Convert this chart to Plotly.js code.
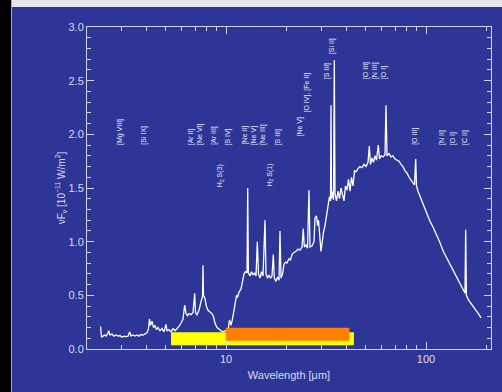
<!DOCTYPE html>
<html>
<head>
<meta charset="utf-8">
<script src="https://cdn.plot.ly/plotly-3.0.1.min.js"></script>
<style>
  html, body { margin: 0; padding: 0; background: #000; width: 502px; height: 392px; overflow: hidden; }
  #topbar { position: absolute; left: 12px; top: 0; width: 490px; height: 7px; background: #e6e6e8; }
  #edge { position: absolute; left: 11px; top: 0; width: 1px; height: 392px; background: #a8a8b8; }
  #chart { position: absolute; left: 12px; top: 7px; width: 490px; height: 385px; }
</style>
</head>
<body>
<div id="topbar"></div>
<div id="edge"></div>
<div id="chart"></div>
<script>
// Spectrum: wavelength (micron) and nuF_nu (1e-11 W/m^2)
const wavelength = [
  2.358, 2.385, 2.427, 2.469, 2.512, 2.556, 2.592, 2.630, 2.692, 2.754,
  2.818, 2.884, 2.951, 3.020, 3.090, 3.162, 3.236, 3.300, 3.350, 3.428,
  3.508, 3.589, 3.673, 3.758, 3.846, 3.936, 4.027, 4.098, 4.145, 4.193,
  4.266, 4.341, 4.416, 4.493, 4.571, 4.677, 4.786, 4.898, 5.012, 5.070,
  5.188, 5.309, 5.433, 5.559, 5.689, 5.821, 5.957, 6.095, 6.216, 6.310,
  6.420, 6.531, 6.683, 6.839, 6.974, 7.038, 7.161, 7.328, 7.499, 7.630,
  7.674, 7.718, 7.852, 7.971, 8.128, 8.318, 8.511, 8.660, 8.810, 9.016,
  9.226, 9.441, 9.661, 9.886, 10.12, 10.29, 10.41, 10.59, 10.78, 10.96,
  11.16, 11.29, 11.42, 11.61, 11.89, 12.09, 12.30, 12.52, 12.74, 12.84,
  12.94, 13.18, 13.41, 13.65, 13.88, 14.13, 14.34, 14.54, 14.79, 15.05,
  15.31, 15.67, 15.85, 16.13, 16.41, 16.70, 16.98, 17.24, 17.44, 17.78,
  18.09, 18.41, 18.62, 18.84, 19.17, 19.50, 19.84, 20.18, 20.65, 21.01,
  21.38, 21.88, 22.39, 22.91, 23.44, 23.99, 24.35, 24.63, 25.12, 25.56,
  26.00, 26.30, 26.92, 27.54, 27.86, 28.35, 28.68, 29.01, 29.51, 29.85,
  30.20, 30.66, 31.26, 31.88, 32.36, 32.92, 33.31, 33.50, 33.69, 34.08,
  34.48, 34.80, 35.08, 35.69, 36.31, 36.94, 37.58, 38.24, 38.90, 39.58,
  40.27, 40.97, 41.69, 42.41, 43.15, 43.90, 44.67, 45.71, 46.77, 47.86,
  48.98, 50.12, 51.29, 52.06, 52.78, 53.70, 54.64, 55.59, 56.56, 57.75,
  58.55, 59.57, 60.95, 62.37, 63.10, 63.83, 65.31, 66.83, 68.39, 69.98,
  71.61, 73.28, 74.99, 76.74, 78.52, 80.35, 82.22, 84.14, 86.10, 87.60,
  88.82, 89.64, 91.20, 93.33, 96.61, 100.8, 104.7, 108.8, 113.5, 117.5,
  122.0, 126.6, 131.8, 136.9, 142.4, 147.9, 153.7, 156.7, 157.9, 159.2,
  162.7, 169.3, 173.8, 179.3, 184.1, 188.4
];
const nuFnu = [
  0.21, 0.11, 0.12, 0.13, 0.12, 0.14, 0.17, 0.13, 0.14, 0.12,
  0.13, 0.12, 0.125, 0.11, 0.12, 0.115, 0.12, 0.16, 0.12, 0.13,
  0.12, 0.13, 0.12, 0.135, 0.13, 0.14, 0.15, 0.19, 0.28, 0.22,
  0.26, 0.20, 0.22, 0.18, 0.20, 0.17, 0.19, 0.16, 0.23, 0.17,
  0.18, 0.16, 0.19, 0.17, 0.19, 0.21, 0.24, 0.28, 0.41, 0.33,
  0.31, 0.33, 0.32, 0.34, 0.52, 0.34, 0.32, 0.36, 0.44, 0.49,
  0.78, 0.50, 0.47, 0.40, 0.36, 0.34, 0.33, 0.30, 0.24, 0.20,
  0.18, 0.17, 0.16, 0.17, 0.16, 0.20, 0.27, 0.22, 0.28, 0.35,
  0.46, 0.50, 0.48, 0.53, 0.56, 0.62, 0.70, 0.72, 0.71, 1.50,
  0.71, 0.68, 0.72, 0.69, 0.71, 0.68, 1.00, 0.70, 0.66, 0.72,
  0.68, 1.20, 0.70, 0.66, 0.69, 0.66, 0.68, 0.88, 0.66, 0.63,
  0.67, 0.64, 1.10, 0.66, 0.70, 0.79, 0.81, 0.80, 0.84, 0.83,
  0.88, 0.90, 0.91, 0.93, 0.92, 0.95, 1.12, 0.95, 0.97, 0.94,
  1.48, 0.95, 0.96, 1.00, 1.22, 1.24, 1.15, 1.20, 1.00, 0.91,
  0.98, 1.08, 1.15, 1.25, 1.32, 1.42, 1.38, 2.27, 1.40, 1.47,
  1.39, 2.69, 1.45, 1.38, 1.47, 1.40, 1.50, 1.42, 1.38, 1.52,
  1.48, 1.58, 1.47, 1.60, 1.52, 1.66, 1.65, 1.68, 1.70, 1.69,
  1.72, 1.70, 1.74, 1.89, 1.72, 1.78, 1.74, 1.80, 1.76, 1.90,
  1.77, 1.80, 1.79, 1.81, 2.27, 1.80, 1.82, 1.79, 1.80, 1.77,
  1.76, 1.75, 1.72, 1.70, 1.66, 1.64, 1.60, 1.57, 1.55, 1.53,
  1.77, 1.52, 1.47, 1.42, 1.35, 1.26, 1.19, 1.13, 1.06, 0.99,
  0.91, 0.85, 0.78, 0.73, 0.67, 0.61, 0.55, 0.52, 1.11, 0.50,
  0.46, 0.41, 0.38, 0.35, 0.32, 0.29
];

// Emission-line labels
const lineLabels = [
  "[Mg VIII]", "[Si IX]", "[Ar II]", "[Ne VI]", "[Ar III]", "H<sub>2</sub> S(3)", "[S IV]",
  "[Ne II]", "[Ne V]", "[Ne III]", "H<sub>2</sub> S(1)", "[S III]", "[Ne V]", "[O IV], [Fe II]",
  "[S III]", "[Si II]", "[O III]", "[N III]", "[O I]", "[O III]", "[N II]", "[O I]", "[C II]"
];
const labelWavelength = [
  2.95, 3.85, 6.66, 7.36, 8.64, 9.41, 10.23,
  12.45, 13.85, 15.19, 16.60, 18.26, 23.44, 25.32,
  31.88, 34.01, 50.12, 55.59, 61.66, 87.4, 119.3, 136.0, 155.5
];
const labelBase = [
  1.90, 1.90, 1.90, 1.90, 1.90, 1.51, 1.90,
  1.90, 1.90, 1.90, 1.51, 1.90, 1.98, 2.20,
  2.51, 2.75, 2.51, 2.51, 2.51, 1.90, 1.90, 1.90, 1.90
];

// Instrument coverage bands
const bandStart = [5.31, 9.97];
const bandEnd = [43.6, 41.4];
const bandLow = [0.034, 0.078];
const bandHigh = [0.155, 0.199];
const bandColors = ["#ffff00", "#ff7f00"];

// x-axis ticks
const majorTicks = [10, 100];
const majorTickText = ["10", "100"];
const minorTicks = [2, 3, 4, 5, 6, 7, 8, 9, 20, 30, 40, 50, 60, 70, 80, 90, 200];

const axisColor = "#d4d4e4";
const textColor = "#dcdcec";
const font = "Liberation Sans, Arial, sans-serif";

const traces = [{
  x: wavelength, y: nuFnu, type: "scatter", mode: "lines",
  line: { color: "#ffffff", width: 1.3 }, hoverinfo: "skip"
}];
for (let i = 0; i < bandStart.length; i++) {
  traces.push({
    x: [bandStart[i], bandEnd[i], bandEnd[i], bandStart[i], bandStart[i]],
    y: [bandLow[i], bandLow[i], bandHigh[i], bandHigh[i], bandLow[i]],
    type: "scatter", mode: "none", fill: "toself", fillcolor: bandColors[i],
    hoverinfo: "skip"
  });
}

const annotations = lineLabels.map((t, i) => ({
  x: Math.log10(labelWavelength[i]), y: labelBase[i], xref: "x", yref: "y",
  text: t, showarrow: false, textangle: -90, xanchor: "center", yanchor: "bottom",
  borderpad: 0, borderwidth: 0,
  font: { family: font, size: 7, color: "#e6e6f4" }
}));

const layout = {
  width: 490, height: 385,
  margin: { l: 75, r: 11, t: 20, b: 43, pad: 0 },
  paper_bgcolor: "#2d3696", plot_bgcolor: "#2d3696",
  showlegend: false, hovermode: false,
  font: { family: font, size: 11, color: textColor },
  xaxis: {
    type: "log", range: [0.305, 2.325],
    showline: true, linecolor: axisColor, linewidth: 1, mirror: "ticks",
    ticks: "inside", ticklen: 7, tickcolor: axisColor, tickwidth: 1,
    tickmode: "array", tickvals: majorTicks, ticktext: majorTickText,
    minor: { tickmode: "array", tickvals: minorTicks, ticks: "inside", ticklen: 4, tickcolor: axisColor, tickwidth: 1 },
    showgrid: false, zeroline: false,
    tickfont: { size: 11, color: textColor },
    title: { text: "Wavelength [μm]", font: { size: 11, color: textColor }, standoff: 7 }
  },
  yaxis: {
    range: [0, 3],
    showline: true, linecolor: axisColor, linewidth: 1, mirror: "ticks",
    ticks: "inside", ticklen: 7, tickcolor: axisColor, tickwidth: 1,
    dtick: 0.5, tick0: 0, tickformat: ".1f",
    minor: { dtick: 0.1, ticks: "inside", ticklen: 4, tickcolor: axisColor, tickwidth: 1 },
    showgrid: false, zeroline: false,
    tickfont: { size: 11, color: textColor },
    title: { text: "νF<sub>ν</sub> [10<sup>−11</sup> W/m<sup>2</sup>]", font: { size: 10, color: textColor }, standoff: 1 }
  },
  annotations: annotations
};

Plotly.newPlot("chart", traces, layout, { staticPlot: true, displayModeBar: false });
</script>
</body>
</html>
